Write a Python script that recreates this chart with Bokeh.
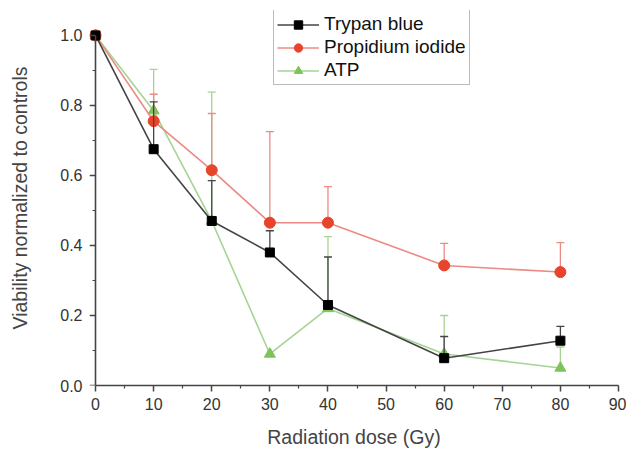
from bokeh.plotting import figure
from bokeh.models import Range1d, Legend, LegendItem, FixedTicker, ColumnDataSource, LinearAxis
from bokeh.embed import file_html
from bokeh.resources import INLINE

dose = [0, 10, 20, 30, 40, 60, 80]
trypan = [1.0, 0.675, 0.47, 0.38, 0.23, 0.078, 0.128]
trypan_up = [1.0, 0.81, 0.585, 0.442, 0.367, 0.14, 0.169]
pi = [1.0, 0.755, 0.615, 0.465, 0.465, 0.343, 0.324]
pi_up = [1.0, 0.832, 0.777, 0.725, 0.568, 0.406, 0.408]
atp = [1.0, 0.785, 0.47, 0.09, 0.22, 0.09, 0.05]
atp_up = [1.0, 0.903, 0.838, 0.09, 0.425, 0.20, 0.11]

x_ticks = [0, 10, 20, 30, 40, 50, 60, 70, 80, 90]
y_ticks = [0.0, 0.2, 0.4, 0.6, 0.8, 1.0]
y_labels = {0.0: "0.0", 0.2: "0.2", 0.4: "0.4", 0.6: "0.6", 0.8: "0.8", 1.0: "1.0"}

FONT = "Liberation Sans"
AX = "#444444"

p = figure(width=626, height=450, output_backend="svg", toolbar_location=None,
           x_range=Range1d(-1.04, 90), y_range=Range1d(0, 1.0712),
           min_border_left=89, min_border_right=8, min_border_top=10, min_border_bottom=64)
p.outline_line_color = None
p.grid.visible = False
p.background_fill_color = "white"

def style(ax):
    ax.axis_line_color = AX
    ax.axis_line_width = 1.6
    ax.major_tick_line_color = AX
    ax.minor_tick_line_color = AX
    ax.major_tick_line_width = 1.5
    ax.minor_tick_line_width = 1.2
    ax.major_tick_out = 6
    ax.major_tick_in = 0
    ax.minor_tick_out = 3
    ax.minor_tick_in = 0
    ax.major_label_text_font = FONT
    ax.major_label_text_font_size = "16px"
    ax.major_label_text_color = "#333333"
    ax.axis_label_text_font = FONT
    ax.axis_label_text_font_style = "normal"
    ax.axis_label_text_color = AX

style(p.xaxis[0])
style(p.yaxis[0])

p.xaxis.bounds = (0, 90)
p.xaxis.ticker = FixedTicker(ticks=x_ticks, minor_ticks=[5 + 10 * i for i in range(9)])
p.xaxis.axis_label = "Radiation dose (Gy)"
p.xaxis.axis_label_text_font_size = "19.5px"
p.xaxis.axis_label_standoff = 13
p.xaxis.major_label_standoff = 6

# left axis at frame edge: labels only
ya = p.yaxis[0]
ya.ticker = FixedTicker(ticks=y_ticks)
ya.major_label_overrides = y_labels
ya.axis_line_color = None
ya.major_tick_line_color = None
ya.minor_tick_line_color = None
ya.major_tick_out = 0
ya.minor_tick_out = 0
ya.major_label_standoff = 7
ya.axis_label = "Viability normalized to controls"
ya.axis_label_text_font_size = "19.5px"
ya.axis_label_standoff = 26

# axis line and ticks placed exactly at x = 0
y_line = LinearAxis(fixed_location=0, bounds=(0, 1.0),
                    ticker=FixedTicker(ticks=y_ticks, minor_ticks=[0.1, 0.3, 0.5, 0.7, 0.9]))
style(y_line)
y_line.major_label_text_alpha = 0
y_line.major_label_text_font_size = "1px"
y_line.major_label_standoff = 0
p.add_layout(y_line, "left")

series = [
    ("ATP", atp, atp_up, "#a5d494", "#7cc45a", "triangle", 11),
    ("Propidium iodide", pi, pi_up, "#ec8a84", "#e8442c", "circle", 11),
    ("Trypan blue", trypan, trypan_up, "#444444", "#000000", "square", 9),
]

items = {}
for name, vals, ups, lcol, mcol, marker, size in series:
    src = ColumnDataSource(dict(x=dose, y=vals, up=ups))
    p.segment(x0="x", y0="y", x1="x", y1="up", source=src, line_color=lcol, line_width=1.3)
    p.scatter(x="x", y="up", source=src, marker="dash", size=8, line_color=lcol, line_width=1.3)
    ln = p.line(x="x", y="y", source=src, line_color=lcol, line_width=1.6)
    sc = p.scatter(x="x", y="y", source=src, marker=marker, size=size,
                   fill_color=mcol, line_color=mcol)
    items[name] = [ln, sc]

legend = Legend(items=[LegendItem(label=n, renderers=items[n])
                       for n in ["Trypan blue", "Propidium iodide", "ATP"]],
                location=(184, 300))
legend.label_text_font = FONT
legend.label_text_font_size = "19px"
legend.label_text_color = "#111111"
legend.glyph_width = 42
legend.glyph_height = 21
legend.label_height = 21
legend.spacing = 1
legend.padding = 3
legend.margin = 0
legend.label_standoff = 5
legend.border_line_color = "#777777"
legend.border_line_width = 1.5
legend.background_fill_alpha = 1.0
p.add_layout(legend, "center")

open("out.html", "w").write(file_html(p, INLINE))
